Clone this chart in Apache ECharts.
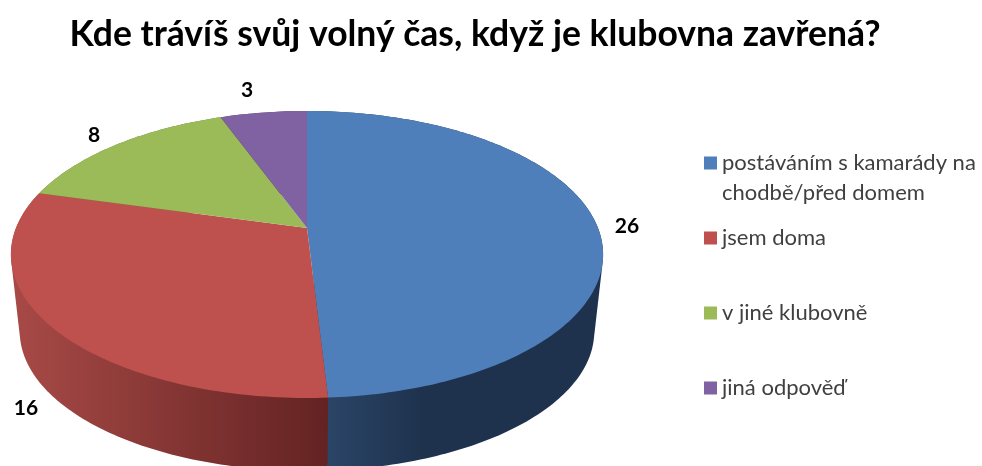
<!DOCTYPE html>
<html><head><meta charset="utf-8">
<style>html,body{margin:0;padding:0;background:#fff}#c{width:982px;height:466px}</style>
<script src="https://cdn.jsdelivr.net/npm/echarts@6/dist/echarts.min.js"></script>
</head><body><div id="c"></div>
<script>
const titleText = 'Kde trávíš svůj volný čas, když je klubovna zavřená?';
const categories = ['postáváním s kamarády na\nchodbě/před domem', 'jsem doma', 'v jiné klubovně', 'jiná odpověď'];
const values = [26, 16, 8, 3];

// layout and style constants
const colors = ['#4F7FBA', '#BE504D', '#9BBB59', '#8061A1'];
const wallFill = [
  {x0: 327, x1: 600, stops: [[0, '#2B4567'], [0.35, '#1E324D'], [1, '#1E324D']]},
  {x0: 11, x1: 327, stops: [[0, '#A84A47'], [1, '#632322']]},
  {x0: 11, x1: 327, stops: [[0, '#5F7536'], [1, '#5F7536']]},
  {x0: 11, x1: 327, stops: [[0, '#4D3A63'], [1, '#4D3A63']]}
];
const labelPos = [[627, 226], [26, 408], [94, 135], [247, 90]];
const legendCentres = [163, 238, 313, 388];
const FONT = 'Lato';
const G = {cx: 307, cy: 228, a: 291, b: 138.6, k: 0.1846, wallQ: 0.97, wallD: 78};

const total = values.reduce((s, v) => s + v, 0);
function project(deg, q, dy) {
  const t = deg * Math.PI / 180, u = Math.sin(t), v = -Math.cos(t), w = 1 - G.k * v;
  return [G.cx + q * G.a * u / w, G.cy + dy + q * G.b * v / w];
}
function arc(a0, a1, q, dy) {
  const n = Math.max(2, Math.ceil(Math.abs(a1 - a0))), pts = [];
  for (let i = 0; i <= n; i++) pts.push(project(a0 + (a1 - a0) * i / n, q, dy));
  return pts;
}
function hull(points) {
  const p = points.slice().sort((a, b) => a[0] - b[0] || a[1] - b[1]);
  const cross = (o, a, b) => (a[0] - o[0]) * (b[1] - o[1]) - (a[1] - o[1]) * (b[0] - o[0]);
  const half = list => {
    const h = [];
    for (const q of list) {
      while (h.length > 1 && cross(h[h.length - 2], h[h.length - 1], q) <= 0) h.pop();
      h.push(q);
    }
    h.pop();
    return h;
  };
  return half(p).concat(half(p.slice().reverse()));
}
function makeSeries(name, idx) {
  const before = values.slice(0, idx).reduce((s, v) => s + v, 0);
  return {
    type: 'custom', name, coordinateSystem: 'none', z: 2, silent: true,
    itemStyle: {color: colors[idx]},
    data: [[before, values[idx]]],
    renderItem(params, api) {
      const a0 = api.value(0) / total * 360, a1 = (api.value(0) + api.value(1)) / total * 360;
      const topArc = arc(a0, a1, 1, 0);
      const rim = arc(a1, a0, G.wallQ, G.wallD);
      const wf = wallFill[idx];
      return {type: 'group', children: [
        {type: 'polygon', z2: 1 + idx * 0.1, shape: {points: hull(topArc.concat(rim))},
         style: {fill: new echarts.graphic.LinearGradient(wf.x0, 0, wf.x1, 0,
           wf.stops.map(s => ({offset: s[0], color: s[1]})), true)}},
        {type: 'polygon', z2: 2, shape: {points: [[G.cx, G.cy]].concat(topArc)},
         style: {fill: colors[idx]}},
        {type: 'text', z2: 3, x: labelPos[idx][0], y: labelPos[idx][1],
         style: {text: String(api.value(1)), fill: '#000', font: 'bold 21px ' + FONT, align: 'center', verticalAlign: 'middle'}}
      ]};
    }
  };
}
const legends = categories.map((name, i) => {
  const lines = name.split('\n').length;
  const lh = 30, boxLines = lines > 1 ? lines + 1 : 1;
  return {
    data: [name], orient: 'vertical', left: 704, top: legendCentres[i] - boxLines * lh / 2,
    padding: 0, itemWidth: 13, itemHeight: 13, itemGap: 0, icon: 'rect', selectedMode: false,
    formatter: n => (lines > 1 ? '\n' : '') + n,
    textStyle: {fontFamily: FONT, fontSize: 22, color: '#404040', lineHeight: lh}
  };
});
const chart = echarts.init(document.getElementById('c'), null, {renderer: 'canvas'});
chart.setOption({
  animation: false,
  backgroundColor: '#fff',
  title: {text: titleText, left: 470, textAlign: 'center', top: 12,
          textStyle: {fontFamily: FONT, fontSize: 35.5, fontWeight: 'bold', color: '#000'}},
  legend: legends,
  series: categories.map(makeSeries)
});
</script></body></html>
